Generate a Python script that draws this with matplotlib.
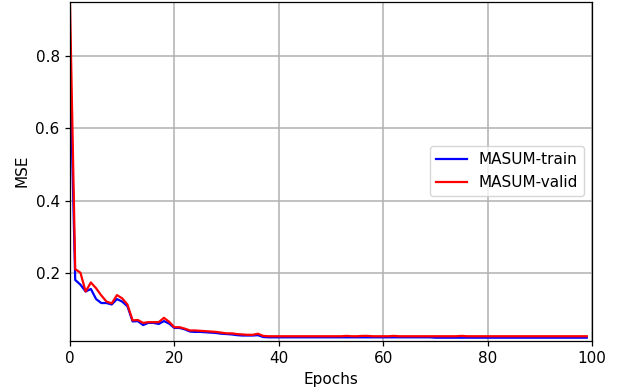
import numpy as np
import matplotlib
matplotlib.use('Agg')
import matplotlib.pyplot as plt

plt.rcParams['font.size'] = 11
plt.rcParams['axes.linewidth'] = 0.9
plt.rcParams['xtick.major.size'] = 3.9
plt.rcParams['ytick.major.size'] = 3.9
plt.rcParams['xtick.major.width'] = 0.9
plt.rcParams['ytick.major.width'] = 0.9

# Loss por época (0..99)
epochs = np.arange(100)

train_mse = [
    0.780, 0.180, 0.167, 0.148, 0.155, 0.127, 0.116, 0.116, 0.112, 0.127,
    0.120, 0.107, 0.065, 0.066, 0.055, 0.061, 0.061, 0.058, 0.066, 0.059,
    0.047, 0.047, 0.043, 0.037, 0.036, 0.036, 0.035, 0.034, 0.033, 0.031,
    0.030, 0.029, 0.027, 0.026, 0.026, 0.026, 0.027, 0.022, 0.021, 0.021,
    0.021, 0.021, 0.021, 0.021, 0.021, 0.021, 0.021, 0.021, 0.021, 0.021,
    0.021, 0.021, 0.021, 0.021, 0.021, 0.021, 0.021, 0.021, 0.021, 0.021,
    0.021, 0.021, 0.021, 0.021, 0.021, 0.021, 0.021, 0.021, 0.021, 0.021,
    0.020, 0.020, 0.020, 0.020, 0.020, 0.020, 0.020, 0.020, 0.020, 0.020,
    0.020, 0.020, 0.020, 0.020, 0.020, 0.020, 0.020, 0.020, 0.020, 0.020,
    0.020, 0.020, 0.020, 0.020, 0.020, 0.020, 0.020, 0.020, 0.020, 0.020,
]

valid_mse = [
    0.948, 0.210, 0.200, 0.148, 0.173, 0.157, 0.137, 0.120, 0.115, 0.138,
    0.129, 0.112, 0.068, 0.069, 0.061, 0.063, 0.063, 0.063, 0.075, 0.064,
    0.049, 0.049, 0.045, 0.040, 0.040, 0.039, 0.038, 0.037, 0.036, 0.034,
    0.032, 0.032, 0.030, 0.029, 0.028, 0.028, 0.031, 0.025, 0.024, 0.024,
    0.024, 0.024, 0.024, 0.024, 0.024, 0.024, 0.024, 0.024, 0.024, 0.024,
    0.024, 0.024, 0.024, 0.025, 0.024, 0.024, 0.025, 0.025, 0.024, 0.024,
    0.024, 0.024, 0.025, 0.024, 0.024, 0.024, 0.024, 0.024, 0.024, 0.024,
    0.024, 0.024, 0.024, 0.024, 0.024, 0.025, 0.024, 0.024, 0.024, 0.024,
    0.024, 0.024, 0.024, 0.024, 0.024, 0.024, 0.024, 0.024, 0.024, 0.024,
    0.024, 0.024, 0.024, 0.024, 0.024, 0.024, 0.024, 0.024, 0.024, 0.024,
]

fig = plt.figure(figsize=(6.21, 3.91), dpi=100)
ax = fig.add_axes([0.1127, 0.1286, 0.8406, 0.8671])

ax.plot(epochs, train_mse, color='blue', linewidth=1.6, label='MASUM-train')
ax.plot(epochs, valid_mse, color='red', linewidth=1.6, label='MASUM-valid')

ax.set_xlim(0, 100)
ax.set_ylim(0.0116, 0.951)
ax.set_yticks([0.2, 0.4, 0.6, 0.8])
ax.set_xlabel('Epochs')
ax.set_ylabel('MSE')
ax.grid(True, color='#b0b0b0', linewidth=1.1)
ax.legend(loc='center right')

plt.savefig('out.png', dpi=100)
